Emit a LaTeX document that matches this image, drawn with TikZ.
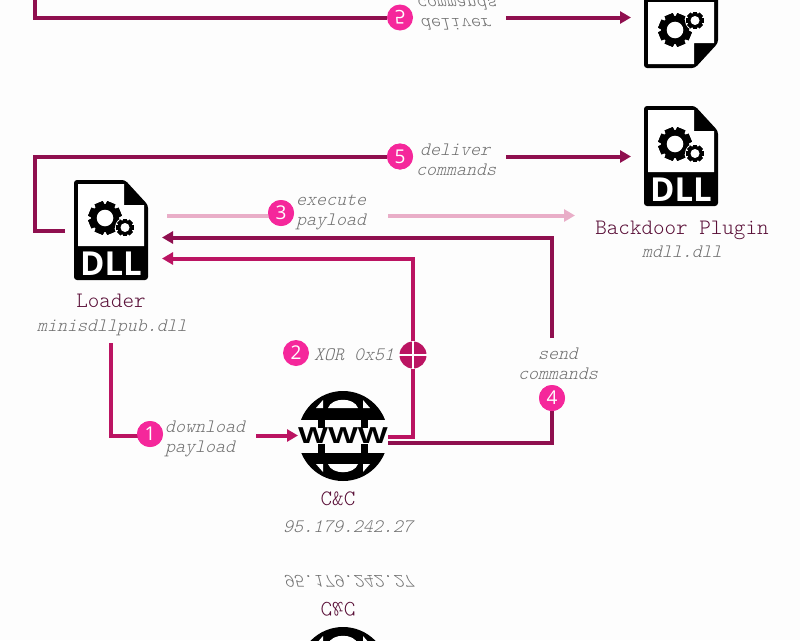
\documentclass[tikz,border=0pt]{standalone}
\usepackage{fontspec}
\usetikzlibrary{arrows.meta}
\setmainfont{Open Sans}
\newfontfamily\lblfont{Latin Modern Mono Light}
\newfontfamily\notefont[FakeSlant=0.25]{Latin Modern Mono Light}
\newfontfamily\iconfont{Open Sans}
\newfontfamily\wwwfont{Liberation Sans}
\definecolor{cdark}{HTML}{8F0F4F}
\definecolor{cmid}{HTML}{BB1462}
\definecolor{cpale}{HTML}{E9AEC8}
\definecolor{cbadge}{HTML}{F5279B}
\definecolor{clabel}{HTML}{5A1038}
\definecolor{cnote}{HTML}{707070}
\definecolor{cbg}{HTML}{FDFDFD}
\tikzset{
  x=1pt,y=-1pt,
  tip/.style={-{Triangle[length=11pt,width=12pt]}},
  link/.style={line width=4pt,line join=miter},
  darklink/.style={link,draw=cdark},
  midlink/.style={link,draw=cmid},
  palelink/.style={link,draw=cpale},
  badge/.style={circle,fill=cbadge,text=white,minimum size=26pt,inner sep=0pt,font=\fontsize{19}{19}\selectfont},
  namelabel/.style={text=clabel,inner sep=0pt,font=\lblfont\fontsize{22}{22}\selectfont},
  note/.style={text=cnote,inner sep=0pt,align=left,font=\notefont\fontsize{19}{20}\selectfont},
  anchorbox/.style={inner sep=0pt,outer sep=0pt},
}
% gear: centre x, centre y, outer radius, rotation
\newcommand{\gearshape}[4]{%
  \foreach \a in {0,45,...,315}{%
    \fill[black,rotate around={\a+#4:(#1,#2)}] (#1-0.27*#3,#2-#3) rectangle (#1+0.27*#3,#2+#3);}
  \fill[black] (#1,#2) circle (#3*0.86);
}
% file icon; (#1,#2) = top-left, 74 x 100
\newcommand{\fileicon}[2]{%
  \begin{scope}[shift={(#1,#2)}]
    \fill[black,rounded corners=3pt] (0,0) -- (51,0) -- (74,25) -- (74,100) -- (0,100) -- cycle;
    \fill[white] (4,4) -- (50,4) -- (50,25) -- (70,25) -- (70,66) -- (4,66) -- cycle;
    \gearshape{31}{38}{16.5}{22.5}
    \fill[white] (31,38) circle (8.3);
    \fill[white] (51,47.5) circle (10);
    \gearshape{51}{47.5}{8.8}{0}
    \fill[white] (51,47.5) circle (4.5);
    \node[anchorbox,text=white,transform shape] at (37,84) {\iconfont\bfseries\fontsize{33}{33}\selectfont DLL};
  \end{scope}
}
% globe centred at (#1,#2)
\newcommand{\globeicon}[2]{%
  \begin{scope}[shift={(#1,#2)}]
    \foreach \s in {1,-1}{%
      \begin{scope}[yscale=\s]
        \begin{scope}
          \clip (-50,-50) rectangle (50,-17);
          \fill[black] (0,0) circle (45);
          \fill[white] (-15,-28) -- (15,-28) .. controls (11,-39) and (-11,-39) .. (-15,-28) -- cycle;
          \fill[white] (-27,-28) -- (-20,-28) -- (-20,-36) -- cycle;
          \fill[white] (27,-28) -- (20,-28) -- (20,-36) -- cycle;
        \end{scope}
        \fill[black] (-25,-18) rectangle (-18,-8);
        \fill[black] (18,-18) rectangle (25,-8);
      \end{scope}}
    \node[anchorbox,text=black,transform shape] at (0,0) {\scalebox{1.38}[1]{\wwwfont\bfseries\fontsize{23}{23}\selectfont WWW}};
  \end{scope}
}
\newcommand{\plugingroup}[1]{%
  \fileicon{644}{106}
  \node[anchorbox,minimum width=74pt,minimum height=100pt] (#1plugin) at (681,156) {};
  \node[badge,transform shape] (#1b5) at (400,156.5) {5};
  \node[note,anchor=west,transform shape] (#1n5) at (416,160) {\hspace*{4pt}deliver\\commands};
  \coordinate (#1c5) at (506,156.5);
  \coordinate (#1t5) at (631,156.5);
  \draw[darklink,tip] (#1c5) -- (#1t5);
}
\newcommand{\ccgroup}[1]{%
  \globeicon{343}{436}
  \node[anchorbox,minimum width=90pt,minimum height=90pt] (#1www) at (343,436) {};
  \node[namelabel,transform shape] (#1cc) at (338,499) {C\&C};
  \node[note,transform shape] (#1ip) at (348,527) {95.179.242.27};
}
\begin{document}
\begin{tikzpicture}
\useasboundingbox (0,0) rectangle (800,640);
\clip (0,0) rectangle (800,640);
\fill[cbg] (0,0) rectangle (800,640);

% mirrored strip at the top
\begin{scope}[shift={(0,174)},yscale=-1,transform shape]
  \plugingroup{m}
  \coordinate (mloop) at (35,240);
  \draw[darklink] (mloop) |- (mb5);
\end{scope}

% mirrored strip at the bottom
\begin{scope}[shift={(0,1108)},yscale=-1,transform shape]
  \ccgroup{n}
\end{scope}

\coordinate (la) at (65,231);
\coordinate (lb) at (35,156.5);
\coordinate (dl0) at (111,343);
\coordinate (dl1) at (111,435.5);
\coordinate (dl2) at (256,435.5);
\coordinate (ex0) at (167,215.5);
\coordinate (ex1) at (388,215.5);
\coordinate (ex2) at (575,215.5);
\coordinate (r1) at (388,437);
\coordinate (r2) at (413,258.5);
\coordinate (r3) at (162,258.5);
\coordinate (s1) at (388,443);
\coordinate (s2) at (552,338);
\coordinate (s3) at (552,237.5);
\coordinate (s4) at (162,237.5);

\plugingroup{}
\ccgroup{}
\fileicon{74}{180}
\node[anchorbox,minimum width=74pt,minimum height=100pt] (loader) at (111,230) {};

\node[namelabel] (lname) at (111,301) {Loader};
\node[note] (lfile) at (112,328) {minisdllpub.dll};
\node[namelabel] (pname) at (682,230.5) {Backdoor Plugin};
\node[note] (pfile) at (682,252) {mdll.dll};

\node[badge] (b1) at (150,434) {1};
\node[badge] (b2) at (296,353) {2};
\node[badge] (b3) at (281,213) {3};
\node[badge] (b4) at (552,398) {4};
\node[circle,fill=cmid,minimum size=27pt,inner sep=0pt] (xor) at (413,355) {};

\draw[darklink] (la) -| (lb) -- (b5);
\draw[midlink] (dl0) -- (dl1) -- (dl1 -| b1);
\draw[midlink,tip] (dl2) -- (dl2 -| www.west);
\draw[palelink] (ex0) -- (ex0 -| b3);
\draw[palelink,tip] (ex1) -- (ex2);
\draw[midlink] (r1) -| (xor);
\draw[midlink,tip] (xor) -- (r2) -- (r3);
\draw[darklink] (s1) -| (b4);
\draw[darklink,tip] (s2) -- (s3) -- (s4);
\node[badge] at (b1) {1};
\node[badge] at (b3) {3};
\node[badge] at (b4) {4};
\node[badge] at (b5) {5};
\draw[white,line width=2pt] (xor.north) -- (xor.south);
\draw[white,line width=2pt] (xor.west) -- (xor.east);

\node[note,anchor=west] (n1) at (165,439) {download\\payload};
\node[note,anchor=west] (n2) at (314,355) {XOR 0x51};
\node[note,anchor=west] (n3) at (296,212) {execute\\payload};
\node[note,align=center] (n4) at (558,364) {send\\commands};
\end{tikzpicture}
\end{document}
